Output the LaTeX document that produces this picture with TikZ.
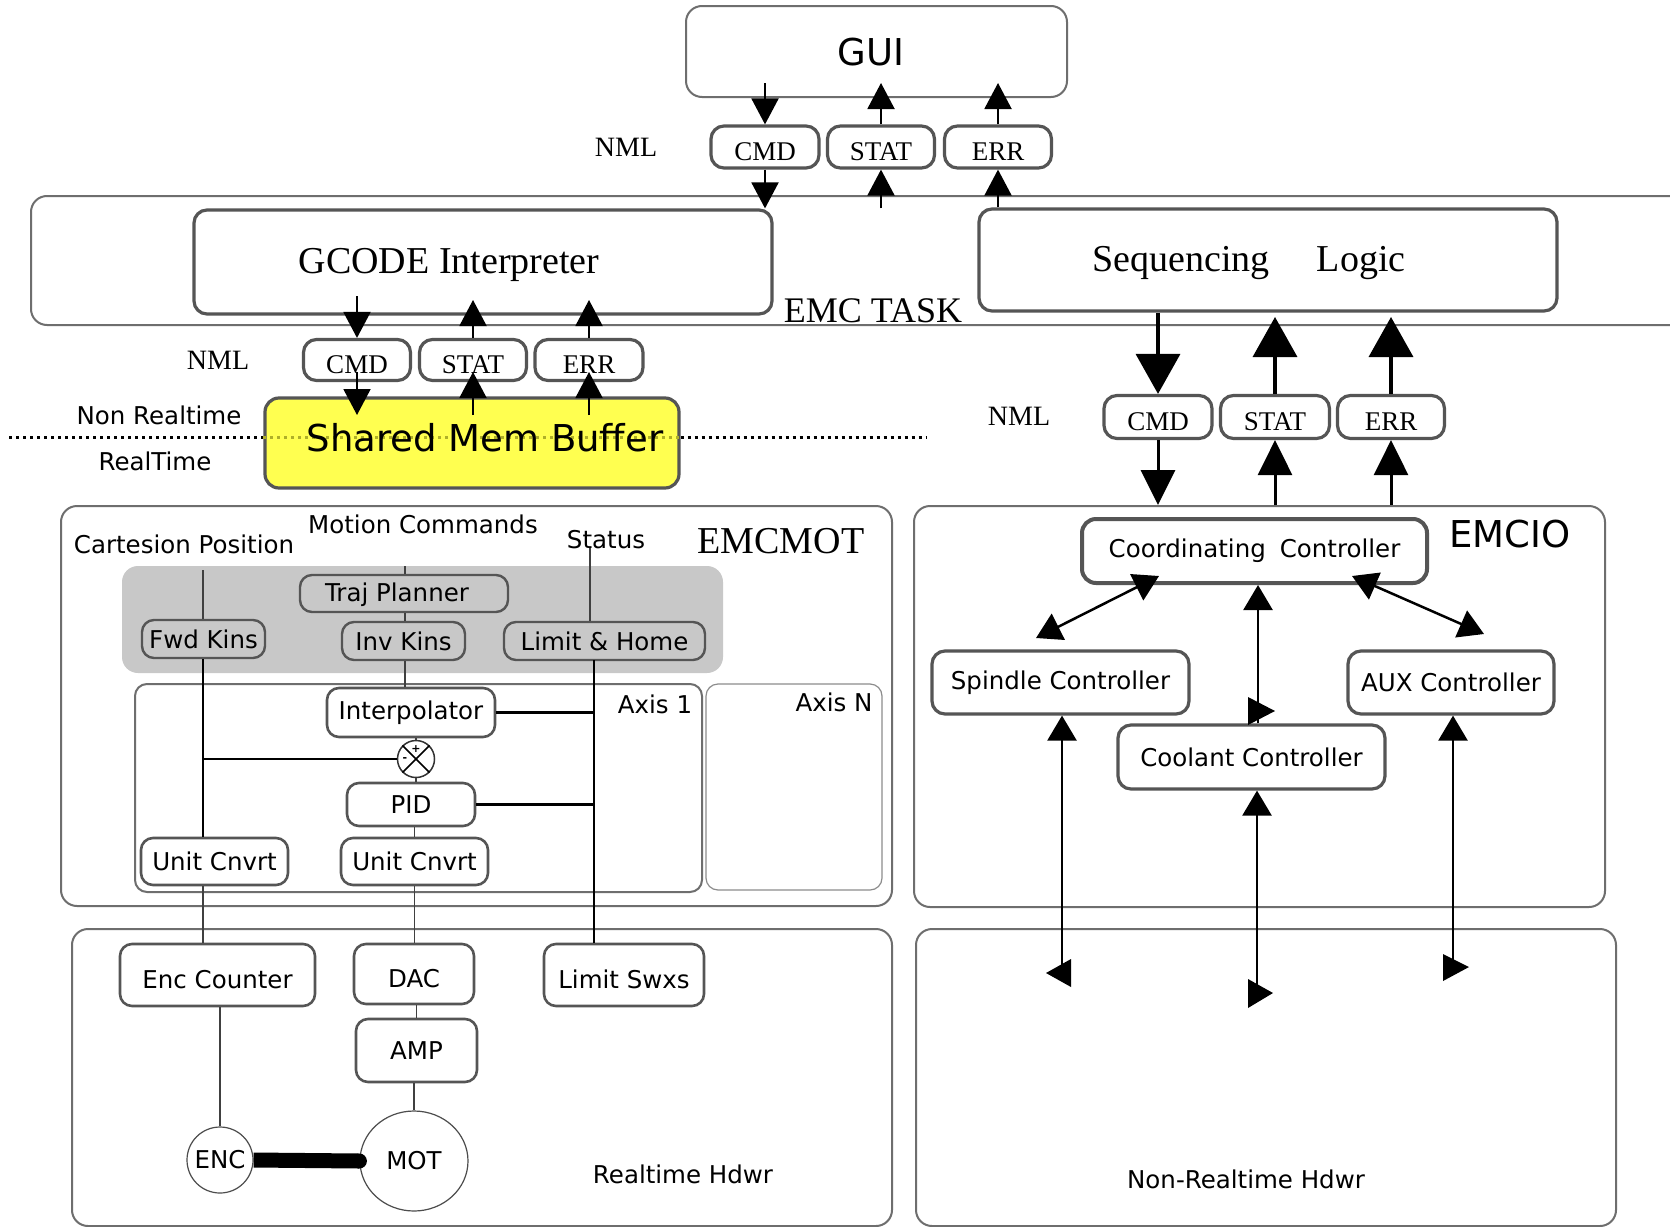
\documentclass[tikz,border=0pt]{standalone}
\usepackage{fontspec}
\setmainfont{Liberation Serif}
\setsansfont{DejaVu Sans}
\usetikzlibrary{arrows.meta,shapes.geometric}
\definecolor{cbox}{RGB}{110,110,110}
\definecolor{nbord}{RGB}{85,85,85}
\definecolor{rgn}{RGB}{200,200,200}
\definecolor{ylw}{RGB}{255,255,80}
\definecolor{dotin}{RGB}{175,175,40}
\begin{document}
\begin{tikzpicture}[x=1pt,y=-1pt,
  cont/.style={draw=cbox,line width=2pt,rounded corners=16pt,inner sep=0pt},
  nb/.style={draw=nbord,line width=3.2pt,rounded corners=13pt,fill=white,inner sep=0pt},
  nbs/.style={draw=nbord,line width=2.6pt,rounded corners=12pt,fill=white,inner sep=0pt},
  gb/.style={draw=nbord,line width=2.4pt,rounded corners=12pt,fill=rgn,inner sep=0pt},
  lowtxt/.style={text height=26pt,text depth=0pt},
  sans/.style={font=\sffamily\fontsize{24.5pt}{28pt}\selectfont},
  bigsans/.style={font=\sffamily\fontsize{37pt}{42pt}\selectfont},
  serifS/.style={font=\rmfamily\fontsize{27pt}{30pt}\selectfont,lowtxt},
  serifM/.style={font=\rmfamily\fontsize{28pt}{30pt}\selectfont},
  serifT/.style={font=\rmfamily\fontsize{36pt}{40pt}\selectfont},
  serifL/.style={font=\rmfamily\fontsize{38pt}{42pt}\selectfont},
  thinln/.style={draw=black!75,line width=1.2pt},
  thickln/.style={draw=black,line width=2.5pt},
  arrS/.style={line width=2pt,-{Triangle[width=27pt,length=26pt]}},
  arrM/.style={line width=3pt,-{Triangle[width=34pt,length=35pt]}},
  arrL/.style={line width=3.5pt,-{Triangle[width=44pt,length=40pt]}},
  arrIO/.style={line width=2.5pt,{Triangle[width=29pt,length=25pt]}-{Triangle[width=29pt,length=25pt]}},
  arrIOs/.style={line width=2.5pt,-{Triangle[width=29pt,length=25pt]}},
  dotl/.style={line width=3pt,dash pattern=on 3pt off 4pt}
]
\useasboundingbox (0,0) rectangle (1670,1226);
\fill[white] (0,0) rectangle (1670,1226);

% ---------- containers ----------
\node[cont,minimum width=381pt,minimum height=91pt] (gui) at (876.5,51.5) {};
\node[bigsans] (guit) at (871,52) {GUI};
\node[cont,minimum width=1669pt,minimum height=129pt] (task) at (865.5,260.5) {};
\node[cont,minimum width=831pt,minimum height=400pt] (emcmot) at (476.5,706) {};
\node[cont,minimum width=691pt,minimum height=401pt] (emcio) at (1259.5,706.5) {};
\node[cont,minimum width=820pt,minimum height=297pt] (rthw) at (482,1077.5) {};
\node[cont,minimum width=700pt,minimum height=297pt] (nrthw) at (1266,1077.5) {};

% ---------- top NML ----------
\node[serifM] (nml1) at (626,147) {NML};
\node[nb,serifS,minimum width=108pt,minimum height=42pt] (cmdT) at (765,147) {CMD};
\node[nb,serifS,minimum width=107pt,minimum height=42pt] (statT) at (881,147) {STAT};
\node[nb,serifS,minimum width=107pt,minimum height=42pt] (errT) at (998,147) {ERR};

% ---------- EMC TASK ----------
\node[nb,minimum width=578pt,minimum height=104pt] (gcode) at (483,262) {};
\node[serifL] (gcodet) at (449,265) {GCODE Interpreter};
\node[nb,minimum width=578pt,minimum height=102pt] (seq) at (1268,260) {};
\node[serifL] (seqt) at (1249,263) {Sequencing\hspace{47pt}Logic};
\node[serifT] (taskt) at (873,311) {EMC TASK};

% ---------- middle NML ----------
\node[serifM] (nml2) at (218,360) {NML};
\node[nb,serifS,minimum width=107pt,minimum height=41pt] (cmdM) at (357,360) {CMD};
\node[nb,serifS,minimum width=107pt,minimum height=41pt] (statM) at (473,360) {STAT};
\node[nb,serifS,minimum width=108pt,minimum height=41pt] (errM) at (589,360) {ERR};

% ---------- shared memory ----------
\node[draw=nbord,line width=3.2pt,rounded corners=14pt,fill=ylw,minimum width=414pt,minimum height=90pt,inner sep=0pt] (shm) at (472,443) {};
\coordinate (dl) at (9,437);
\coordinate (dr) at (927,437);
\draw[dotl,black] (dl) -- (dl -| shm.west);
\draw[dotl,black] (dr -| shm.east) -- (dr);
\draw[dotl,dotin] (dl -| shm.west) -- (dr -| shm.east);
\node[bigsans] (shmt) at (485,438) {Shared Mem Buffer};
\node[sans] (nrt) at (159,415) {Non Realtime};
\node[sans] (rt) at (155,461) {RealTime};

% ---------- right NML ----------
\node[serifM] (nml3) at (1019,416) {NML};
\node[nb,serifS,minimum width=108pt,minimum height=43pt] (cmdR) at (1158,417) {CMD};
\node[nb,serifS,minimum width=109pt,minimum height=43pt] (statR) at (1275,417) {STAT};
\node[nb,serifS,minimum width=107pt,minimum height=43pt] (errR) at (1391,417) {ERR};

% ---------- EMCMOT ----------
\node[fill=rgn,rounded corners=16pt,minimum width=601pt,minimum height=107pt,inner sep=0pt] (region) at (422.5,619.5) {};
\node[serifL] (emcmott) at (781,541) {EMCMOT};
\node[sans] (cartt) at (184,544) {Cartesion Position};
\node[sans] (motiont) at (423,524) {Motion Commands};
\node[sans] (statust) at (606,540) {Status};
\node[gb,sans,minimum width=208pt,minimum height=37pt] (traj) at (404,593.5) {};
\node[sans] (trajt) at (397,595) {Traj Planner};
\node[gb,sans,minimum width=123pt,minimum height=38pt] (fwd) at (203.5,639) {Fwd Kins};
\node[gb,sans,minimum width=123pt,minimum height=38pt] (inv) at (403.5,641) {Inv Kins};
\node[gb,sans,minimum width=201pt,minimum height=38pt] (lh) at (604.5,641) {Limit \& Home};

\node[draw=cbox,line width=2pt,rounded corners=12pt,minimum width=567pt,minimum height=208pt,inner sep=0pt] (axis1) at (418.5,788) {};
\node[draw=black!45,line width=1.2pt,rounded corners=12pt,minimum width=176pt,minimum height=206pt,inner sep=0pt] (axisN) at (794,787) {};
\node[sans] (axis1t) at (655,704) {Axis 1};
\node[sans] (axisNt) at (834,702) {Axis N};

\node[nbs,sans,minimum width=168pt,minimum height=49pt] (interp) at (411,712.5) {Interpolator};
\node[circle,draw=black!80,line width=1.5pt,fill=white,minimum size=37pt,inner sep=0pt] (sum) at (416,759) {};
\draw[line width=1.5pt] (sum.north west) -- (sum.south east);
\draw[line width=1.5pt] (sum.north east) -- (sum.south west);
\node[font=\sffamily\bfseries\fontsize{11pt}{11pt}\selectfont,inner sep=0pt] (plus) at (416,749) {+};
\node[font=\sffamily\bfseries\fontsize{11pt}{11pt}\selectfont,inner sep=0pt] (minus) at (405,760) {-};
\node[nbs,sans,minimum width=128pt,minimum height=43pt] (pid) at (411,804.5) {PID};
\node[nbs,sans,minimum width=147pt,minimum height=47pt] (unitR) at (414.5,861.5) {Unit Cnvrt};
\node[nbs,sans,minimum width=147pt,minimum height=47pt] (unitL) at (214.5,861.5) {Unit Cnvrt};

% ---------- Realtime hardware ----------
\node[nbs,sans,lowtxt,minimum width=195pt,minimum height=62pt] (encc) at (217.5,975) {Enc Counter};
\node[nbs,sans,lowtxt,minimum width=120pt,minimum height=60pt] (dac) at (414,974) {DAC};
\node[nbs,sans,minimum width=121pt,minimum height=63pt] (amp) at (416.5,1050.5) {AMP};
\node[nbs,sans,lowtxt,minimum width=160pt,minimum height=62pt] (lsw) at (624,975) {Limit Swxs};
\node[circle,draw=black!70,line width=1.2pt,fill=white,minimum size=66pt,inner sep=0pt,sans] (enc) at (220,1160) {ENC};
\node[ellipse,draw=black!70,line width=1.2pt,fill=white,minimum width=108pt,minimum height=100pt,inner sep=0pt,sans] (mot) at (414,1161) {MOT};
\node[sans] (rthwt) at (683,1174) {Realtime Hdwr};

% EMCMOT lines
\coordinate (cpTop) at (203,570);
\coordinate (mcTop) at (405,566);
\coordinate (stTop) at (590,548);
\coordinate (lx) at (594,660);
\draw[thinln] (cpTop) -- (cpTop |- fwd.north);
\draw[thinln] (mcTop) -- (mcTop |- traj.north);
\draw[thinln] (traj.south -| mcTop) -- (inv.north -| mcTop);
\draw[thinln] (inv.south -| mcTop) -- (interp.north -| mcTop);
\draw[thinln] (stTop) -- (stTop |- lh.north);
\draw[thickln] (fwd.south -| cpTop) -- (unitL.north -| cpTop);
\draw[thickln] (sum.west -| cpTop) -- (sum.west);
\draw[thickln] (lx) -- (lx |- lsw.north);
\draw[thickln] (interp.east) -- (interp.east -| lx);
\draw[thickln] (pid.east) -- (pid.east -| lx);
\draw[thinln] (interp.south -| sum) -- (sum.north);
\draw[thinln] (sum.south) -- (pid.north -| sum);
\draw[thinln] (pid.south -| unitR) -- (unitR.north);
\draw[thinln] (unitR.south) -- (dac.north -| unitR);
\draw[thinln] (dac.south -| amp) -- (amp.north);
\draw[thinln] (amp.south -| mot) -- (mot.north);
\draw[thinln] (unitL.south -| cpTop) -- (encc.north -| cpTop);
\draw[thinln] (encc.south -| enc) -- (enc.north);
\draw[line width=15pt] (enc.east) -- (mot.west);
\fill (mot.west) circle (7.5pt);

% ---------- EMCIO ----------
\node[bigsans] (emciot) at (1510,534) {EMCIO};
\node[draw=nbord,line width=4pt,rounded corners=14pt,fill=white,inner sep=0pt,minimum width=345pt,minimum height=64pt,sans] (coord) at (1254.5,551) {Coordinating\hspace{14pt}Controller};
\node[nb,sans,minimum width=257pt,minimum height=63pt] (spindle) at (1060.5,682.5) {Spindle Controller};
\node[nb,sans,minimum width=206pt,minimum height=63pt] (aux) at (1451,682.5) {AUX Controller};
\node[nb,sans,minimum width=267pt,minimum height=64pt] (coolant) at (1251.5,757) {Coolant Controller};
\node[sans] (nrthwt) at (1246,1179) {Non-Realtime Hdwr};

\coordinate (a1) at (1159,576);
\coordinate (a2) at (1036,638);
\coordinate (b1) at (1352,576);
\coordinate (b2) at (1484,634);
\draw[arrIO] (a2) -- (a1);
\draw[arrIO] (b1) -- (b2);
\coordinate (cx) at (1258,711);
\draw[arrIOs] (cx |- coolant.north) -- (cx |- coord.south);
\fill (1275,711) -- (1248,697) -- (1248,725) -- cycle;
\coordinate (sx) at (1062,975);
\draw[arrIOs] (sx) -- (sx |- spindle.south);
\fill (1046,973) -- (1071,959) -- (1071,987) -- cycle;
\coordinate (kx) at (1257,993);
\draw[arrIOs] (kx) -- (kx |- coolant.south);
\fill (1273,993) -- (1248,979) -- (1248,1008) -- cycle;
\coordinate (ux) at (1453,967);
\draw[arrIOs] (ux) -- (ux |- aux.south);
\fill (1469,967) -- (1443,954) -- (1443,981) -- cycle;

% ---------- NML arrows ----------
\coordinate (guiB) at (0,83);
\draw[arrS] (guiB -| cmdT) -- (cmdT.north);
\draw[arrS] (statT.north) -- (guiB -| statT);
\draw[arrS] (errT.north) -- (guiB -| errT);
\draw[arrS] (cmdT.south) -- (cmdT.south |- gcode.north);
\draw[arrS] (statT.south |- gcode.north) -- (statT.south);
\draw[arrS] (errT.south |- seq.north) -- (errT.south);

\coordinate (gB) at (0,296);
\coordinate (gT) at (0,300);
\draw[arrS] (gB -| cmdM) -- (cmdM.north);
\draw[arrS] (statM.north) -- (gT -| statM);
\draw[arrS] (errM.north) -- (gT -| errM);
\coordinate (mA) at (0,372);
\coordinate (sB) at (0,415);
\draw[arrS] (mA -| cmdM) -- (sB -| cmdM);
\draw[arrS] (sB -| statM) -- (mA -| statM);
\draw[arrS] (sB -| errM) -- (mA -| errM);

\coordinate (qB) at (0,317);
\draw[arrL] (seq.south -| cmdR) -- (cmdR.north);
\draw[arrL] (statR.north) -- (qB -| statR);
\draw[arrL] (errR.north) -- (qB -| errR);
\draw[arrM] (cmdR.south) -- (cmdR.south |- emcio.north);
\draw[arrM] (statR.south |- emcio.north) -- (statR.south);
\draw[arrM] (errR.south |- emcio.north) -- (errR.south);
\end{tikzpicture}
\end{document}
